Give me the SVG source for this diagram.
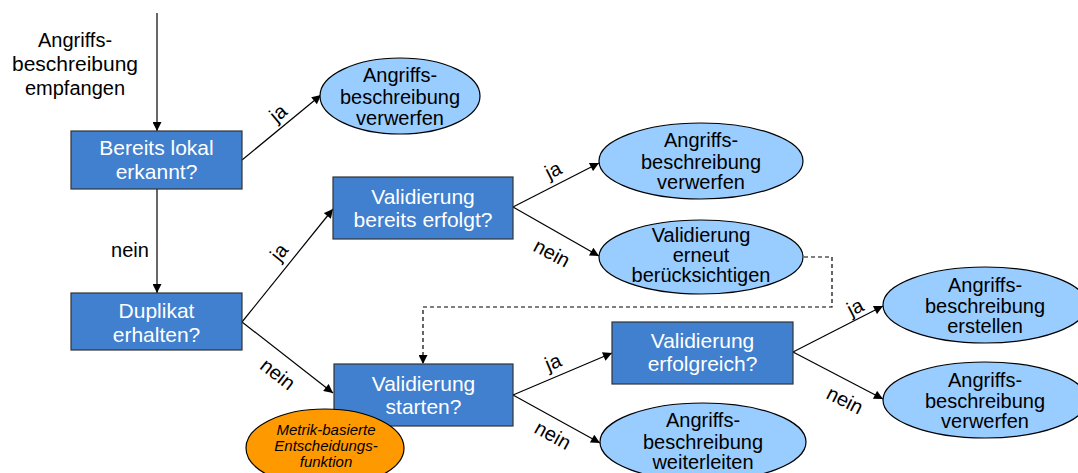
<svg xmlns="http://www.w3.org/2000/svg" width="1078" height="473" viewBox="0 0 1078 473">
  <defs>
    <marker id="arrow" viewBox="0 0 10 10" refX="10" refY="5" markerWidth="11" markerHeight="9" markerUnits="userSpaceOnUse" orient="auto">
      <path d="M0,0 L10,5 L0,10 z" fill="#000"/>
    </marker>
    <style>
      .box { fill: #4080CF; stroke: #333; stroke-width: 1.2; }
      .oval { fill: #99CCFF; stroke: #000; stroke-width: 1.2; }
      .metric { fill: #FF9900; stroke: #000; stroke-width: 1.2; }
      .btxt { font-family: "Liberation Sans", Arial, sans-serif; font-size: 21px; fill: #fff; text-anchor: middle; }
      .otxt { font-family: "Liberation Sans", Arial, sans-serif; font-size: 20px; fill: #000; text-anchor: middle; }
      .mtxt { font-family: "Liberation Sans", Arial, sans-serif; font-size: 15px; font-style: italic; fill: #000; text-anchor: middle; }
      .lbl { font-family: "Liberation Sans", Arial, sans-serif; font-size: 20px; fill: #000; text-anchor: middle; }
      .edge { stroke: #000; stroke-width: 1.2; fill: none; marker-end: url(#arrow); }
      .dash { stroke: #000; stroke-width: 1.2; fill: none; stroke-dasharray: 4 3; marker-end: url(#arrow); }
    </style>
  </defs>
  <rect width="1078" height="473" fill="#fff"/>

  <!-- connectors -->
  <g id="connectors">
    <line class="edge" x1="157" y1="13" x2="157" y2="131"/>
    <line class="edge" x1="157" y1="189" x2="157" y2="293"/>
    <line class="edge" x1="242" y1="160" x2="321" y2="95"/>
    <line class="edge" x1="242" y1="322" x2="333" y2="209"/>
    <line class="edge" x1="242" y1="322" x2="333" y2="393"/>
    <line class="edge" x1="513" y1="207" x2="599" y2="163"/>
    <line class="edge" x1="513" y1="207" x2="599" y2="256"/>
    <line class="edge" x1="513" y1="395" x2="612" y2="353"/>
    <line class="edge" x1="513" y1="395" x2="600" y2="443"/>
    <line class="edge" x1="793" y1="352" x2="883" y2="306"/>
    <line class="edge" x1="793" y1="352" x2="883" y2="399"/>
    <path class="dash" d="M804,257 H832 V307 H423 V364"/>

    <text class="lbl" x="75" y="47">Angriffs-</text>
    <text class="lbl" x="75" y="71" style="font-size:21px">beschreibung</text>
    <text class="lbl" x="75" y="95">empfangen</text>
    <text class="lbl" x="130" y="257">nein</text>

    <text class="lbl" transform="translate(278,113) rotate(-40)" y="7">ja</text>
    <text class="lbl" transform="translate(279,252) rotate(-51)" y="7">ja</text>
    <text class="lbl" transform="translate(278,374) rotate(38)" y="7">nein</text>
    <text class="lbl" transform="translate(553,170) rotate(-27)" y="7">ja</text>
    <text class="lbl" transform="translate(552,253) rotate(28)" y="7">nein</text>
    <text class="lbl" transform="translate(553,362) rotate(-23)" y="7">ja</text>
    <text class="lbl" transform="translate(553,435) rotate(29)" y="7">nein</text>
    <text class="lbl" transform="translate(855,307) rotate(-27)" y="7">ja</text>
    <text class="lbl" transform="translate(845,400) rotate(27)" y="7">nein</text>
  </g>

  <!-- decision boxes -->
  <g id="n-lokal">
    <rect class="box" x="71" y="131" width="171" height="58"/>
    <text class="btxt" x="156.5" y="155">Bereits lokal</text>
    <text class="btxt" x="156.5" y="179">erkannt?</text>
  </g>
  <g id="n-duplikat">
    <rect class="box" x="71" y="293" width="171" height="57"/>
    <text class="btxt" x="156.5" y="318">Duplikat</text>
    <text class="btxt" x="156.5" y="342">erhalten?</text>
  </g>
  <g id="n-erfolgt">
    <rect class="box" x="333" y="177" width="180" height="62"/>
    <text class="btxt" x="423" y="204">Validierung</text>
    <text class="btxt" x="423" y="227">bereits erfolgt?</text>
  </g>
  <g id="n-starten">
    <rect class="box" x="334" y="364" width="179" height="62"/>
    <text class="btxt" x="423.5" y="391">Validierung</text>
    <text class="btxt" x="423.5" y="414">starten?</text>
  </g>
  <g id="n-erfolgreich">
    <rect class="box" x="612" y="322" width="181" height="62"/>
    <text class="btxt" x="702.5" y="348">Validierung</text>
    <text class="btxt" x="702.5" y="371">erfolgreich?</text>
  </g>

  <!-- outcome ovals -->
  <g id="n-verwerfen1">
    <ellipse class="oval" cx="400" cy="96" rx="80" ry="38"/>
    <text class="otxt" x="400" y="82">Angriffs-</text>
    <text class="otxt" x="400" y="104">beschreibung</text>
    <text class="otxt" x="400" y="125">verwerfen</text>
  </g>
  <g id="n-verwerfen2">
    <ellipse class="oval" cx="701" cy="161" rx="102" ry="38"/>
    <text class="otxt" x="701" y="147">Angriffs-</text>
    <text class="otxt" x="701" y="169">beschreibung</text>
    <text class="otxt" x="701" y="189">verwerfen</text>
  </g>
  <g id="n-erneut">
    <ellipse class="oval" cx="701" cy="257" rx="102" ry="37"/>
    <text class="otxt" x="701" y="242">Validierung</text>
    <text class="otxt" x="701" y="262">erneut</text>
    <text class="otxt" x="701" y="282">berücksichtigen</text>
  </g>
  <g id="n-erstellen">
    <ellipse class="oval" cx="985" cy="305" rx="102" ry="38"/>
    <text class="otxt" x="985" y="292">Angriffs-</text>
    <text class="otxt" x="985" y="313">beschreibung</text>
    <text class="otxt" x="985" y="333">erstellen</text>
  </g>
  <g id="n-verwerfen3">
    <ellipse class="oval" cx="985" cy="400" rx="102" ry="38"/>
    <text class="otxt" x="985" y="387">Angriffs-</text>
    <text class="otxt" x="985" y="408">beschreibung</text>
    <text class="otxt" x="985" y="428">verwerfen</text>
  </g>
  <g id="n-weiterleiten">
    <ellipse class="oval" cx="703" cy="442" rx="103" ry="39"/>
    <text class="otxt" x="703" y="427">Angriffs-</text>
    <text class="otxt" x="703" y="449">beschreibung</text>
    <text class="otxt" x="703" y="469">weiterleiten</text>
  </g>
  <g id="n-metrik">
    <ellipse class="metric" cx="325" cy="448" rx="79" ry="39"/>
    <text class="mtxt" x="326" y="435">Metrik-basierte</text>
    <text class="mtxt" x="326" y="451">Entscheidungs-</text>
    <text class="mtxt" x="326" y="467">funktion</text>
  </g>
</svg>
